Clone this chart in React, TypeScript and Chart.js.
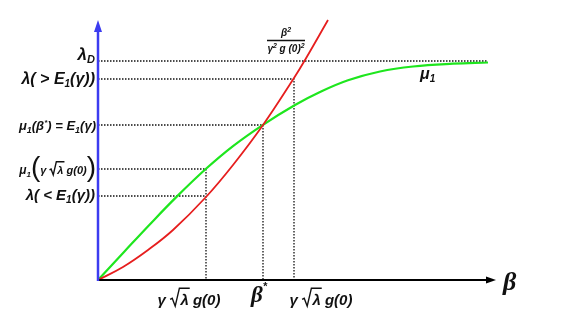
import { useEffect, useRef } from "react";
import { Chart, registerables } from "chart.js";

Chart.register(...registerables);

const W = 564;
const H = 317;

// μ1(β) curve (green)
const muBeta = [0, 26, 52, 79, 108, 135, 165, 197, 221, 250, 282, 315, 355, 390];
const muValue = [0, 28, 55.8, 83.6, 111.2, 133.9, 155.2, 175, 187.5, 199.7, 208.5, 213.5, 216.3, 217.5];

// β² / (γ² g(0)²) curve (red)
const parBeta = [0, 25, 50, 75, 108, 135, 165, 196, 207, 230];
const parValue = [0, 13, 30, 50, 83, 115, 155, 202, 220, 260];

// reference levels
const lambdaD = 219;
const lambdaHigh = 201;
const e1Level = 155;
const muAtLow = 111;
const lambdaLow = 84;
// reference β positions
const betaLow = 108;
const betaStar = 165;
const betaHigh = 196;
const betaEnd = 390;

const xMax = 400;
const yMax = 260;

const SANS = '"Liberation Sans", Arial, sans-serif';
const SERIF = '"Liberation Serif", "Times New Roman", serif';

type Part = { t: string; size: number; dy?: number; w?: string; fam?: string; sqrt?: boolean };

function fontOf(p: Part) {
  return `${p.w ?? "bold italic"} ${p.size}px ${p.fam ?? SANS}`;
}

function partWidth(ctx: CanvasRenderingContext2D, p: Part) {
  ctx.font = fontOf(p);
  const tw = ctx.measureText(p.t).width;
  return p.sqrt ? tw + p.size * 0.62 + 1 : tw;
}

function drawRich(ctx: CanvasRenderingContext2D, parts: Part[], x: number, y: number, align: "left" | "right" | "center") {
  const total = parts.reduce((s, p) => s + partWidth(ctx, p), 0);
  let cx = align === "left" ? x : align === "right" ? x - total : x - total / 2;
  ctx.textBaseline = "alphabetic";
  ctx.textAlign = "left";
  for (const p of parts) {
    ctx.font = fontOf(p);
    const tw = ctx.measureText(p.t).width;
    const by = y + (p.dy ?? 0);
    if (p.sqrt) {
      const s = p.size;
      const rw = s * 0.62;
      ctx.beginPath();
      ctx.lineWidth = 1.4;
      ctx.moveTo(cx, by - s * 0.38);
      ctx.lineTo(cx + s * 0.14, by - s * 0.45);
      ctx.lineTo(cx + s * 0.34, by + s * 0.08);
      ctx.lineTo(cx + rw, by - s * 1.12);
      ctx.lineTo(cx + rw + tw + 2, by - s * 1.12);
      ctx.stroke();
      ctx.fillText(p.t, cx + rw + 1, by);
      cx += rw + 1 + tw;
    } else {
      ctx.fillText(p.t, cx, by);
      cx += tw;
    }
  }
}

const pts = (xs: number[], ys: number[]) => xs.map((x, i) => ({ x, y: ys[i] }));

const dotted = (data: { x: number; y: number }[]) => ({
  data,
  borderColor: "#111",
  borderWidth: 1.3,
  borderDash: [1.5, 1.5],
  pointRadius: 0,
  tension: 0,
  showLine: true,
  clip: false as const,
});

const decor = {
  id: "decor",
  afterDatasetsDraw(chart: any) {
    const ctx: CanvasRenderingContext2D = chart.ctx;
    const xs = chart.scales.x;
    const ys = chart.scales.y;
    const x0 = xs.getPixelForValue(0);
    const y0 = ys.getPixelForValue(0);
    const yTop = ys.getPixelForValue(yMax);
    const xTip = xs.getPixelForValue(xMax) - 2;
    ctx.save();

    // x axis
    ctx.strokeStyle = "#000";
    ctx.fillStyle = "#000";
    ctx.lineWidth = 2;
    ctx.beginPath();
    ctx.moveTo(x0 - 1, y0);
    ctx.lineTo(xTip - 8, y0);
    ctx.stroke();
    ctx.beginPath();
    ctx.moveTo(xTip, y0);
    ctx.lineTo(xTip - 10, y0 - 3.5);
    ctx.lineTo(xTip - 10, y0 + 3.5);
    ctx.closePath();
    ctx.fill();

    // y axis (blue)
    ctx.strokeStyle = "#3c3cf0";
    ctx.fillStyle = "#3c3cf0";
    ctx.lineWidth = 2.5;
    ctx.beginPath();
    ctx.moveTo(x0, y0 + 1);
    ctx.lineTo(x0, yTop + 10);
    ctx.stroke();
    ctx.beginPath();
    ctx.moveTo(x0, yTop);
    ctx.lineTo(x0 - 4, yTop + 12);
    ctx.lineTo(x0 + 4, yTop + 12);
    ctx.closePath();
    ctx.fill();

    // labels
    ctx.fillStyle = "#111";
    ctx.strokeStyle = "#111";
    const rx = x0 - 3;

    drawRich(ctx, [{ t: "λ", size: 17 }, { t: "D", size: 11, dy: 3 }], rx, ys.getPixelForValue(lambdaD) - 1, "right");

    drawRich(
      ctx,
      [{ t: "λ( > E", size: 16 }, { t: "1", size: 10, dy: 3 }, { t: "(γ))", size: 16 }],
      rx,
      ys.getPixelForValue(lambdaHigh) + 5,
      "right"
    );

    drawRich(
      ctx,
      [
        { t: "μ", size: 13 },
        { t: "1", size: 9, dy: 3 },
        { t: "(β", size: 13 },
        { t: "*", size: 8, dy: -5 },
        { t: ") = E", size: 13 },
        { t: "1", size: 9, dy: 3 },
        { t: "(γ)", size: 13 },
      ],
      rx + 1,
      ys.getPixelForValue(e1Level) + 5,
      "right"
    );

    drawRich(
      ctx,
      [
        { t: "μ", size: 12 },
        { t: "1", size: 8, dy: 3 },
        { t: "(", size: 28, w: "normal", dy: 2 },
        { t: "γ ", size: 11 },
        { t: "λ", size: 11, sqrt: true },
        { t: " g(0)", size: 11 },
        { t: ")", size: 28, w: "normal", dy: 2 },
      ],
      rx + 1,
      ys.getPixelForValue(muAtLow) + 5,
      "right"
    );

    drawRich(
      ctx,
      [{ t: "λ( < E", size: 15 }, { t: "1", size: 10, dy: 3 }, { t: "(γ))", size: 15 }],
      rx,
      ys.getPixelForValue(lambdaLow) + 4,
      "right"
    );

    // bottom labels
    const by = y0 + 25;
    const gLabel: Part[] = [
      { t: "γ ", size: 15 },
      { t: "λ", size: 15, sqrt: true },
      { t: " g(0)", size: 15 },
    ];
    drawRich(ctx, gLabel, xs.getPixelForValue(betaLow) - 17, by, "center");
    drawRich(ctx, gLabel, xs.getPixelForValue(betaHigh) + 27, by, "center");
    drawRich(
      ctx,
      [
        { t: "β", size: 23, fam: SERIF },
        { t: "*", size: 11, dy: -12 },
      ],
      xs.getPixelForValue(betaStar) - 4,
      by - 3,
      "center"
    );

    // β axis label
    ctx.font = `bold italic 26px ${SERIF}`;
    ctx.textAlign = "left";
    ctx.fillText("β", xTip + 7, y0 + 10);

    // μ1 label
    drawRich(ctx, [{ t: "μ", size: 16 }, { t: "1", size: 10, dy: 3 }], xs.getPixelForValue(betaEnd) - 68, ys.getPixelForValue(muValue[12]) + 15, "left");

    // fraction label for red curve
    const fx = xs.getPixelForValue(parBeta[parBeta.length - 1]) - 42;
    const fy = yTop + 17;
    drawRich(ctx, [{ t: "β", size: 10 }, { t: "2", size: 7, dy: -4 }], fx, fy - 1, "center");
    ctx.lineWidth = 1.5;
    ctx.beginPath();
    ctx.moveTo(fx - 19, fy + 3.5);
    ctx.lineTo(fx + 19, fy + 3.5);
    ctx.stroke();
    drawRich(
      ctx,
      [
        { t: "γ", size: 10 },
        { t: "2", size: 7, dy: -4 },
        { t: " g (0)", size: 10 },
        { t: "2", size: 7, dy: -4 },
      ],
      fx,
      fy + 15,
      "center"
    );

    ctx.restore();
  },
};

export default function App() {
  const ref = useRef<HTMLCanvasElement | null>(null);

  useEffect(() => {
    if (!ref.current) return;
    const chart = new Chart(ref.current, {
      type: "scatter",
      data: {
        datasets: [
          {
            data: pts(parBeta, parValue),
            borderColor: "#e61e1e",
            borderWidth: 1.8,
            pointRadius: 0,
            showLine: true,
            tension: 0.4,
            clip: false,
          } as any,
          {
            data: pts(muBeta, muValue),
            borderColor: "#1ee61e",
            borderWidth: 2.2,
            pointRadius: 0,
            showLine: true,
            tension: 0.4,
            clip: false,
          } as any,
          dotted([{ x: 0, y: lambdaD }, { x: betaEnd, y: lambdaD }]),
          dotted([{ x: 0, y: lambdaHigh }, { x: betaHigh, y: lambdaHigh }, { x: betaHigh, y: 0 }]),
          dotted([{ x: 0, y: e1Level }, { x: betaStar, y: e1Level }, { x: betaStar, y: 0 }]),
          dotted([{ x: 0, y: muAtLow }, { x: betaLow, y: muAtLow }, { x: betaLow, y: 0 }]),
          dotted([{ x: 0, y: lambdaLow }, { x: betaLow, y: lambdaLow }]),
        ],
      },
      options: {
        responsive: false,
        animation: false,
        events: [],
        layout: { padding: { left: 98, right: W - 98 - xMax, top: 20, bottom: H - 20 - yMax } },
        plugins: { legend: { display: false }, tooltip: { enabled: false } },
        scales: {
          x: { type: "linear", min: 0, max: xMax, display: false },
          y: { type: "linear", min: 0, max: yMax, display: false },
        },
      },
      plugins: [decor],
    });
    return () => chart.destroy();
  }, []);

  return (
    <div style={{ position: "absolute", left: 0, top: 0, width: W, height: H, background: "#fff" }}>
      <canvas ref={ref} width={W} height={H} style={{ display: "block", width: W, height: H }} />
    </div>
  );
}
